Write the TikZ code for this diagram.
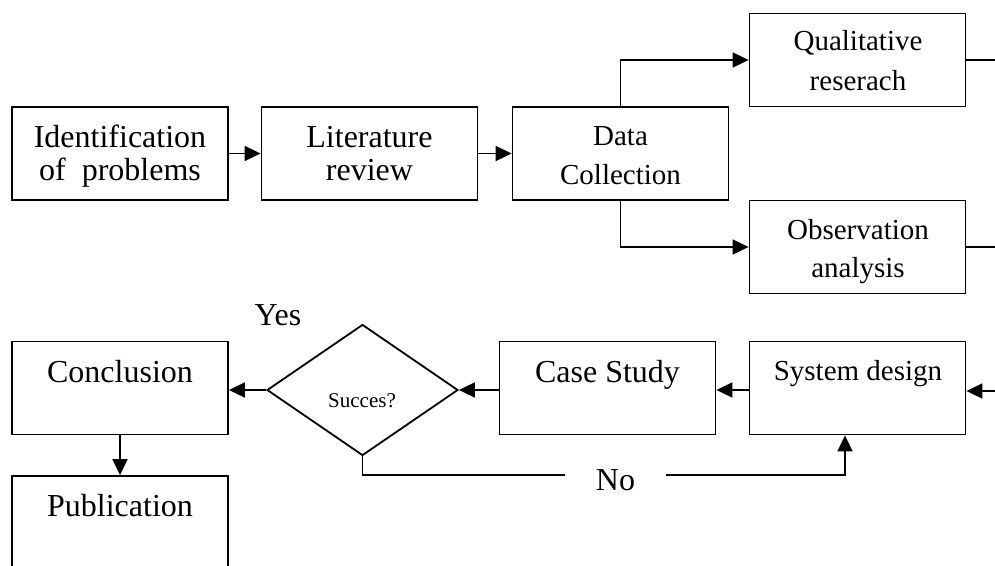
\documentclass[tikz,border=0pt]{standalone}
\usepackage{fontspec}
\setmainfont{Liberation Serif}
\usetikzlibrary{shapes.geometric,arrows.meta,calc}
\begin{document}
\begin{tikzpicture}[x=1pt,y=-1pt,
  box/.style={draw,line width=1.8pt,minimum width=216pt,minimum height=93pt,inner sep=0pt},
  big/.style={inner sep=0pt,anchor=base,font=\fontsize{32}{36}\selectfont},
  med/.style={inner sep=0pt,anchor=base,font=\fontsize{29}{33}\selectfont},
  sml/.style={inner sep=0pt,anchor=base,font=\fontsize{21}{24}\selectfont},
  conn/.style={line width=1.8pt},
  arr/.style={line width=1.8pt,-{Triangle[length=16pt,width=15pt]}}]
\useasboundingbox (0,0) rectangle (995,565);
\clip (0,0) rectangle (995,565);
% boxes
\node[box] (ident) at (120,153.5) {};
\node[box] (lit) at (369.5,153.5) {};
\node[box] (data) at (620.5,153.5) {};
\node[box] (qual) at (857.5,60) {};
\node[box] (obs) at (857.5,247) {};
\node[box] (sys) at (857.5,388) {};
\node[box] (case) at (607.5,388) {};
\node[box] (concl) at (120,388) {};
\node[box,minimum height=168pt] (pub) at (120,560) {};
\node[draw,line width=1.8pt,diamond,minimum width=191pt,minimum height=131pt,inner sep=0pt,aspect=1.46] (dia) at (362.5,390) {};
% texts
\node[big] (t1a) at (120,147) {Identification};
\node[big] (t1b) at (120,180) {of~~problems};
\node[big] (t2a) at (369.5,147) {Literature};
\node[big] (t2b) at (369.5,180) {review};
\node[med] (t3a) at (620.5,145) {Data};
\node[med] (t3b) at (620.5,184) {Collection};
\node[med] (t4a) at (858,50) {Qualitative};
\node[med] (t4b) at (858,90) {reserach};
\node[med] (t5a) at (858,239) {Observation};
\node[med] (t5b) at (858,277) {analysis};
\node[med] (t6) at (858,380) {System design};
\node[big] (t7) at (607.5,382) {Case Study};
\node[big] (t8) at (120,382) {Conclusion};
\node[big] (t9) at (120,516) {Publication};
\node[sml] (t10) at (362,407) {Succes?};
\node[big] (yes) at (278,325) {Yes};
% free ends
\coordinate (r1) at (995,60);
\coordinate (r2) at (995,247);
\coordinate (r3) at (995,391);
\coordinate (nb) at (845,475);
% connectors
\draw[arr] (ident.east) -- (lit.west);
\draw[arr] (lit.east) -- (data.west);
\draw[arr] (data.north) |- (qual.west);
\draw[arr] (data.south) |- (obs.west);
\draw[conn] (qual.east) -- (r1);
\draw[conn] (obs.east) -- (r2);
\draw[arr] (r3) -- (sys.east |- r3);
\draw[arr] (sys.west |- dia.east) -- (case.east |- dia.east);
\draw[arr] (case.west |- dia.east) -- (dia.east);
\draw[arr] (dia.west) -- (concl.east |- dia.west);
\draw[arr] (concl.south) -- (pub.north);
\draw[arr] (dia.south) |- (nb) -- (nb |- sys.south);
\node[big,anchor=base,fill=white,minimum width=101pt,text depth=6pt,text height=24pt] (no) at (615.5,490) {No};
\end{tikzpicture}
\end{document}
